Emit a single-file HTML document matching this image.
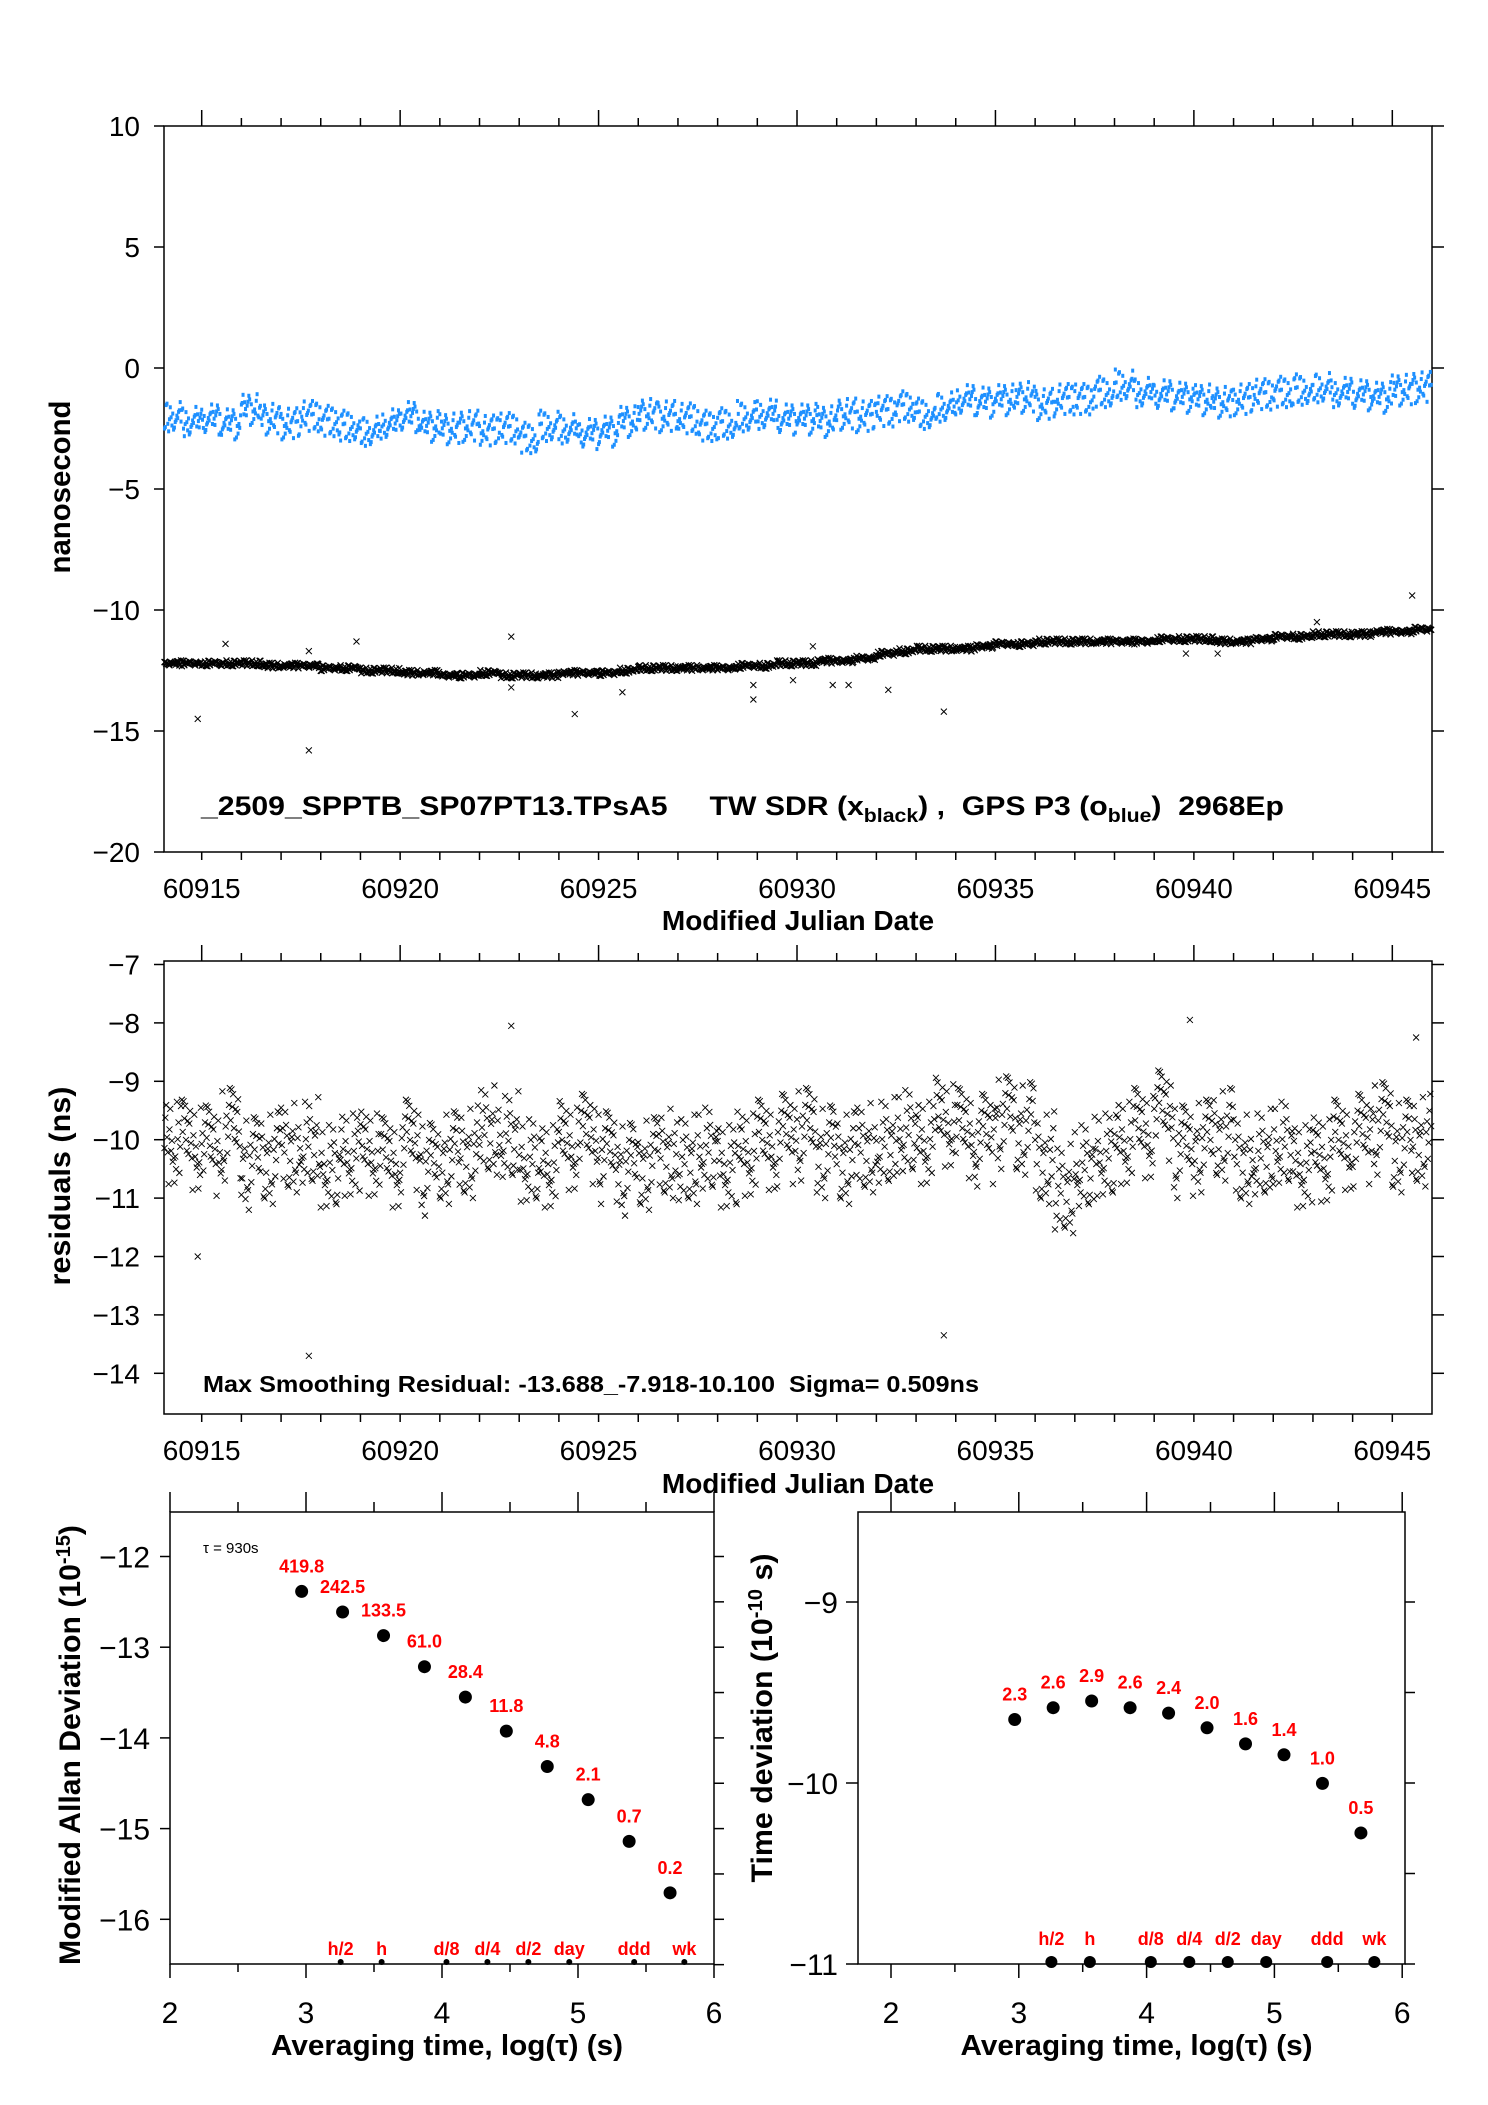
<!DOCTYPE html>
<html><head><meta charset="utf-8">
<style>
html,body{margin:0;padding:0;background:#fff;}
svg{display:block;}
text{font-family:"Liberation Sans",sans-serif;}
</style></head>
<body>
<svg id="chart" width="1488" height="2105" viewBox="0 0 1488 2105" xmlns="http://www.w3.org/2000/svg">
<rect width="1488" height="2105" fill="#fff"/>
<g id="g"></g>
</svg>
<script>
// ---- data (half-day bins starting at MJD 60914.0) ----
const binStart = 60914.0;
const blueMeans = [-2.0,-2.2,-2.1,-2.3,-1.7,-2.1,-2.3,-2.0,-2.2,-2.4,-2.6,-2.3,-2.0,-2.4,-2.5,-2.4,-2.6,-2.5,-2.9,-2.4,-2.5,-2.7,-2.6,-2.2,-1.9,-2.0,-2.1,-2.4,-2.3,-2.0,-1.9,-2.1,-2.1,-2.2,-1.9,-2.0,-1.8,-1.6,-1.9,-1.6,-1.3,-1.4,-1.3,-1.2,-1.5,-1.3,-1.3,-1.0,-0.7,-1.0,-1.1,-1.2,-1.3,-1.4,-1.3,-1.1,-1.0,-0.9,-0.8,-1.0,-1.1,-1.2,-0.9,-0.8];
const blackMeans = [-12.2,-12.2,-12.2,-12.2,-12.2,-12.3,-12.3,-12.3,-12.4,-12.4,-12.5,-12.5,-12.6,-12.6,-12.7,-12.7,-12.6,-12.7,-12.7,-12.7,-12.6,-12.6,-12.6,-12.5,-12.4,-12.4,-12.4,-12.4,-12.4,-12.3,-12.3,-12.2,-12.2,-12.1,-12.1,-12.0,-11.8,-11.7,-11.6,-11.6,-11.6,-11.5,-11.4,-11.4,-11.3,-11.3,-11.3,-11.3,-11.3,-11.3,-11.2,-11.2,-11.2,-11.3,-11.3,-11.2,-11.1,-11.1,-11.0,-11.0,-11.0,-10.9,-10.9,-10.8];
const blackOutlierX = [60914.9,60915.6,60917.7,60917.7,60918.9,60922.8,60922.8,60924.4,60925.6,60928.9,60928.9,60929.9,60930.4,60930.9,60931.3,60932.3,60933.7,60939.8,60940.6,60943.1,60945.5];
const blackOutlierY = [-14.5,-11.4,-15.8,-11.7,-11.3,-11.1,-13.2,-14.3,-13.4,-13.1,-13.7,-12.9,-11.5,-13.1,-13.1,-13.3,-14.2,-11.8,-11.8,-10.5,-9.4];
const residMeans = [-10.0,-10.1,-10.2,-9.9,-10.4,-10.3,-10.1,-10.0,-10.4,-10.2,-10.2,-10.4,-10.1,-10.5,-10.3,-10.2,-9.8,-9.9,-10.3,-10.4,-10.1,-10.0,-10.3,-10.5,-10.4,-10.2,-10.3,-10.1,-10.4,-10.2,-10.1,-10.0,-9.9,-10.2,-10.3,-10.1,-10.0,-9.8,-10.0,-9.7,-9.9,-10.0,-9.7,-9.8,-10.3,-10.8,-10.4,-10.2,-10.0,-9.9,-9.6,-10.2,-10.1,-9.9,-10.3,-10.2,-10.0,-10.4,-10.3,-10.1,-10.0,-9.8,-10.1,-10.0];
const residOutlierX = [60914.9,60917.7,60933.7,60922.8,60939.9,60945.6];
const residOutlierY = [-12.0,-13.7,-13.35,-8.05,-7.95,-8.25];
const spreadPattern = [0.12,-0.63,0.91,-0.18,0.37,-1.0,0.05,0.72,-0.41,0.22,-0.84,0.98,-0.02,-0.33,0.58,-0.92,0.31,-0.11,0.81,-0.52,0.47,-0.71,0.16,-0.27,0.44,-0.06,0.66,-0.88,0.29,-0.47,0.09,0.85,-0.36,-0.77,0.53,0.01,-0.58,0.74,-0.15,0.39,-0.95,0.21,0.62,-0.24,-0.68,0.95,-0.39,0.18];
const mjdTicks = [60915,60920,60925,60930,60935,60940,60945];
const topYTicks = [10,5,0,-5,-10,-15,-20];
const midYTicks = [-7,-8,-9,-10,-11,-12,-13,-14];
const logTau = [2.968,3.269,3.570,3.871,4.172,4.473,4.774,5.075,5.376,5.677];
const madev = [-12.385,-12.612,-12.872,-13.215,-13.550,-13.925,-14.315,-14.681,-15.141,-15.708];
const madevLabels = ["419.8","242.5","133.5","61.0","28.4","11.8","4.8","2.1","0.7","0.2"];
const tdev = [-9.649,-9.584,-9.547,-9.584,-9.614,-9.695,-9.784,-9.844,-10.002,-10.276];
const tdevLabels = ["2.3","2.6","2.9","2.6","2.4","2.0","1.6","1.4","1.0","0.5"];
const markerNames = ["h/2","h","d/8","d/4","d/2","day","ddd","wk"];
const markerLog = [3.255,3.556,4.033,4.334,4.635,4.936,5.413,5.782];
const logTicks = [2,3,4,5,6];
const madevTicks = [-12,-13,-14,-15,-16];
const tdevTicks = [-9,-10,-11];

const NS="http://www.w3.org/2000/svg";
const G=document.getElementById('g');
function mk(tag,attrs,parent){const e=document.createElementNS(NS,tag);for(const k in attrs)e.setAttribute(k,attrs[k]);(parent||G).appendChild(e);return e;}
function txt(s,x,y,size,opt,parent){opt=opt||{};const e=mk('text',{x:x,y:y,'font-size':size,'text-anchor':opt.anchor||'middle',fill:opt.fill||'#000','font-weight':opt.bold?'bold':'normal'},parent);if(opt.len){e.setAttribute('textLength',opt.len);e.setAttribute('lengthAdjust','spacingAndGlyphs');}if(opt.rot)e.setAttribute('transform','rotate(-90 '+x+' '+y+')');e.textContent=s;return e;}

const mjdMin=60914.05, mjdMax=60946.0;
const XM=d=>164+(d-mjdMin)/(mjdMax-mjdMin)*(1432-164);
const YT=v=>126+(10-v)/30*726;
const YM=v=>964.5+(-7-v)*58.4;
const XL=l=>170+(l-2)*136;
const YL=v=>1556.5+(-12-v)*90.7;
const XR=l=>891+(l-2)*127.8;
const YR=v=>1602+(-9-v)*181;

function frame(x0,y0,x1,y1,name){const r=mk('rect',{x:x0,y:y0,width:x1-x0,height:y1-y0,fill:'none',stroke:'#000','stroke-width':1.5});}
function line(x1,y1,x2,y2,w){mk('line',{x1:x1,y1:y1,x2:x2,y2:y2,stroke:'#000','stroke-width':w||1.5});}
function xmark(x,y,s,parent,w){mk('path',{d:`M${x-s} ${y-s}L${x+s} ${y+s}M${x-s} ${y+s}L${x+s} ${y-s}`,stroke:'#000','stroke-width':w||1,fill:'none'},parent);}

function mjdAxis(y0,y1,labY,titleY,prefix){
  for(let d=60915;d<=60945;d++){const maj=(d%5===0);const x=XM(d);line(x,y0,x,y0-(maj?16:8));line(x,y1,x,y1+8);}
  mjdTicks.forEach(t=>{const e=txt(String(t),XM(t),labY,28);});
  const t=txt('Modified Julian Date',798,titleY,28,{bold:true});
}
frame(164,126,1432,852,'top-plot-frame');
mjdAxis(126,852,898,930,'top');
topYTicks.forEach(v=>{const y=YT(v);line(164,y,154,y);line(1432,y,1444,y);const e=txt(String(v).replace('-','\u2212'),140,y+10,28,{anchor:'end'});});
{const e=txt('nanosecond',70,487,30,{bold:true,rot:true,len:173});}

const blueG=mk('g',{fill:'#1e90ff'});
blueMeans.forEach((m,i)=>{for(let k=0;k<24;k++){const d=binStart+i*0.5+k/48;if(d<mjdMin||d>mjdMax)continue;const v=m+0.65*spreadPattern[(k*11+i*7)%48];mk('rect',{x:XM(d)-1.5,y:YT(v)-2,width:3,height:4},blueG);}});
const blackG=mk('g',{});
blackMeans.forEach((m,i)=>{for(let k=0;k<24;k++){const d=binStart+i*0.5+k/48;if(d<mjdMin||d>mjdMax)continue;const v=m+0.12*spreadPattern[(k*13+i*5)%48];xmark(XM(d),YT(v),3,blackG,1.2);}});
blackOutlierX.forEach((d,i)=>xmark(XM(d),YT(blackOutlierY[i]),3,blackG,1));
{const t=mk('text',{x:201,y:815,'font-size':27,'font-weight':'bold','textLength':1083,'lengthAdjust':'spacingAndGlyphs'});

t.innerHTML='_2509_SPPTB_SP07PT13.TPsA5\u00a0\u00a0\u00a0\u00a0 TW SDR (x<tspan font-size="19" dy="7">black</tspan><tspan dy="-7">) ,\u00a0 GPS P3 (o</tspan><tspan font-size="19" dy="7">blue</tspan><tspan dy="-7">)\u00a0 2968Ep</tspan>';}

frame(164,961,1432,1414,'residual-plot-frame');
mjdAxis(961,1414,1460,1493,'residual');
midYTicks.forEach(v=>{const y=YM(v);line(164,y,154,y);line(1432,y,1444,y);const e=txt(String(v).replace('-','\u2212'),140,y+10,28,{anchor:'end'});});
{const e=txt('residuals (ns)',70,1186,30,{bold:true,rot:true,len:199});}
const resG=mk('g',{});
residMeans.forEach((m,i)=>{for(let k=0;k<24;k++){const d=binStart+i*0.5+k/48;if(d<mjdMin||d>mjdMax)continue;const v=m+0.8*spreadPattern[(k*17+i*11)%48];xmark(XM(d),YM(v),3,resG,0.9);}});
residOutlierX.forEach((d,i)=>xmark(XM(d),YM(residOutlierY[i]),3,resG,0.9));
{const e=txt('Max Smoothing Residual: -13.688_-7.918-10.100\u00a0 Sigma= 0.509ns',203,1392,23,{anchor:'start',bold:true,len:776});}

function logAxis(X,x0,x1,y0,y1,prefix){
  for(let l=2;l<=6;l+=0.5){const x=X(l);if(x<x0-1||x>x1+1)continue;const maj=Number.isInteger(l);line(x,y0,x,y0-(maj?20:10));line(x,y1,x,y1+(maj?14:8));}
  logTicks.forEach(t=>{const e=txt(String(t),X(t),2023,30);});
  const t=txt('Averaging time, log(\u03c4) (s)',(x0+x1)/2+5,2055,29,{bold:true,len:352});
}
frame(170,1512,714,1964,'mdev-plot-frame');
logAxis(XL,170,714,1512,1964,'mdev');
for(let v=-12;v>=-16.5;v-=0.5){const y=YL(v);line(714,y,724,y);if(Number.isInteger(v))line(170,y,160,y);}
madevTicks.forEach(v=>{const e=txt(String(v).replace('-','\u2212'),150,YL(v)+11,30,{anchor:'end'});});
{const t=mk('text',{x:80,y:1745,'font-size':30,'font-weight':'bold','text-anchor':'middle',transform:'rotate(-90 80 1745)','textLength':440,'lengthAdjust':'spacingAndGlyphs'});t.innerHTML='Modified Allan Deviation (10<tspan font-size="20" dy="-10">-15</tspan><tspan dy="10">)</tspan>';}
{const e=txt('\u03c4 = 930s',203,1553,15,{anchor:'start'});}
logTau.forEach((l,i)=>{const c=mk('circle',{cx:XL(l),cy:YL(madev[i]),r:6.5,fill:'#000'});
  const e=txt(madevLabels[i],XL(l),YL(madev[i])-19,18,{bold:true,fill:'#f00'});});
markerLog.forEach((l,i)=>{mk('circle',{cx:XL(l),cy:1962,r:3,fill:'#000'});const e=txt(markerNames[i],XL(l),1955,18,{bold:true,fill:'#f00'});});

frame(858,1512,1405,1964,'tdev-plot-frame');
logAxis(XR,858,1405,1512,1964,'tdev');
for(let v=-9;v>=-11;v-=0.5){const y=YR(v);line(1405,y,1415,y);if(Number.isInteger(v))line(858,y,846,y);}
tdevTicks.forEach(v=>{const e=txt(String(v).replace('-','\u2212'),838,YR(v)+11,30,{anchor:'end'});});
{const t=mk('text',{x:772,y:1718,'font-size':30,'font-weight':'bold','text-anchor':'middle',transform:'rotate(-90 772 1718)','textLength':329,'lengthAdjust':'spacingAndGlyphs'});t.innerHTML='Time deviation (10<tspan font-size="20" dy="-10">-10</tspan><tspan dy="10"> s)</tspan>';}
logTau.forEach((l,i)=>{const c=mk('circle',{cx:XR(l),cy:YR(tdev[i]),r:6.5,fill:'#000'});
  const e=txt(tdevLabels[i],XR(l),YR(tdev[i])-19,18,{bold:true,fill:'#f00'});});
markerLog.forEach((l,i)=>{mk('circle',{cx:XR(l),cy:1962,r:6,fill:'#000'});const e=txt(markerNames[i],XR(l),1945,18,{bold:true,fill:'#f00'});});
</script>
</body></html>
